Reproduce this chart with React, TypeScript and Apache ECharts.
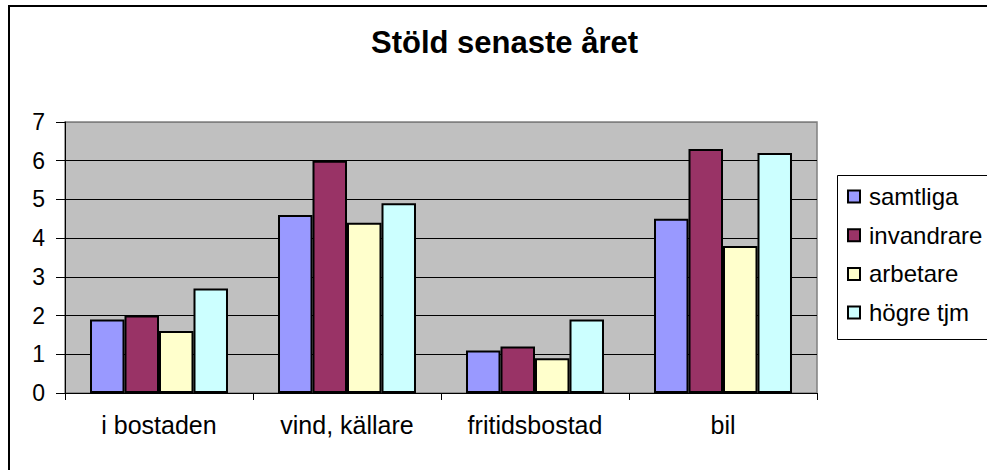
import React, { useEffect, useRef } from "react";
import * as echarts from "echarts";

const categories = ["i bostaden", "vind, källare", "fritidsbostad", "bil"];
const seriesNames = ["samtliga", "invandrare", "arbetare", "högre tjm"];
const samtliga = [1.9, 4.6, 1.1, 4.5];
const invandrare = [2.0, 6.0, 1.2, 6.3];
const arbetare = [1.6, 4.4, 0.9, 3.8];
const hogreTjm = [2.7, 4.9, 1.9, 6.2];
const colors = ["#9999FF", "#993366", "#FFFFCC", "#CCFFFF"];
const titleText = "Stöld senaste året";

const FONT = "'Liberation Sans', Arial, sans-serif";

export default function App() {
  const ref = useRef<HTMLDivElement>(null);
  useEffect(() => {
    if (!ref.current) return;
    const chart = echarts.init(ref.current, null, { renderer: "svg" });
    const values = [samtliga, invandrare, arbetare, hogreTjm];
    chart.setOption({
      animation: false,
      backgroundColor: "#ffffff",
      textStyle: { fontFamily: FONT },
      title: {
        text: titleText,
        left: 371,
        top: 27,
        padding: 0,
        textStyle: { fontFamily: FONT, fontSize: 31, fontWeight: "bold", color: "#000" },
      },
      graphic: [
        {
          type: "rect",
          shape: { x: 9, y: 6, width: 1000, height: 500 },
          style: { fill: "none", stroke: "#000", lineWidth: 2 },
          z: -1,
        },
        {
          type: "rect",
          shape: { x: 837.5, y: 175.5, width: 160, height: 164 },
          style: { fill: "#fff", stroke: "#000", lineWidth: 1 },
          z: -1,
        },
      ],
      legend: {
        orient: "vertical",
        left: 847,
        top: 184,
        padding: 0,
        itemWidth: 12,
        itemHeight: 12,
        itemGap: 13.7,
        icon: "rect",
        data: seriesNames,
        textStyle: {
          fontFamily: FONT,
          fontSize: 24,
          color: "#000",
          lineHeight: 25,
          padding: [0, 0, 0, 4],
        },
      },
      grid: {
        left: 65,
        right: 170,
        top: 122,
        bottom: 77,
        show: true,
        backgroundColor: "#C0C0C0",
        borderColor: "#808080",
        borderWidth: 1.5,
      },
      xAxis: {
        type: "category",
        data: categories,
        axisLine: { show: true, lineStyle: { color: "#000", width: 1 } },
        axisTick: { show: true, length: 7, lineStyle: { color: "#000" } },
        axisLabel: { fontFamily: FONT, fontSize: 25, color: "#000", margin: 19 },
      },
      yAxis: {
        type: "value",
        min: 0,
        max: 7,
        interval: 1,
        axisLine: { show: true, lineStyle: { color: "#000", width: 1 } },
        axisTick: { show: true, length: 9, lineStyle: { color: "#000" } },
        axisLabel: { fontFamily: FONT, fontSize: 23, color: "#000", margin: 20 },
        splitLine: {
          show: true,
          lineStyle: {
            color: ["#000", "#000", "#000", "#000", "#000", "#000", "#000", "#808080"],
            width: 1,
          },
        },
      },
      series: seriesNames.map((name, i) => ({
        name,
        type: "bar",
        data: values[i],
        barGap: "0%",
        barCategoryGap: "26.6%",
        itemStyle: { color: colors[i], borderColor: "#000", borderWidth: 2 },
      })),
    });
    return () => chart.dispose();
  }, []);
  return (
    <div
      ref={ref}
      style={{ position: "absolute", left: 0, top: 0, width: 987, height: 470 }}
    />
  );
}
